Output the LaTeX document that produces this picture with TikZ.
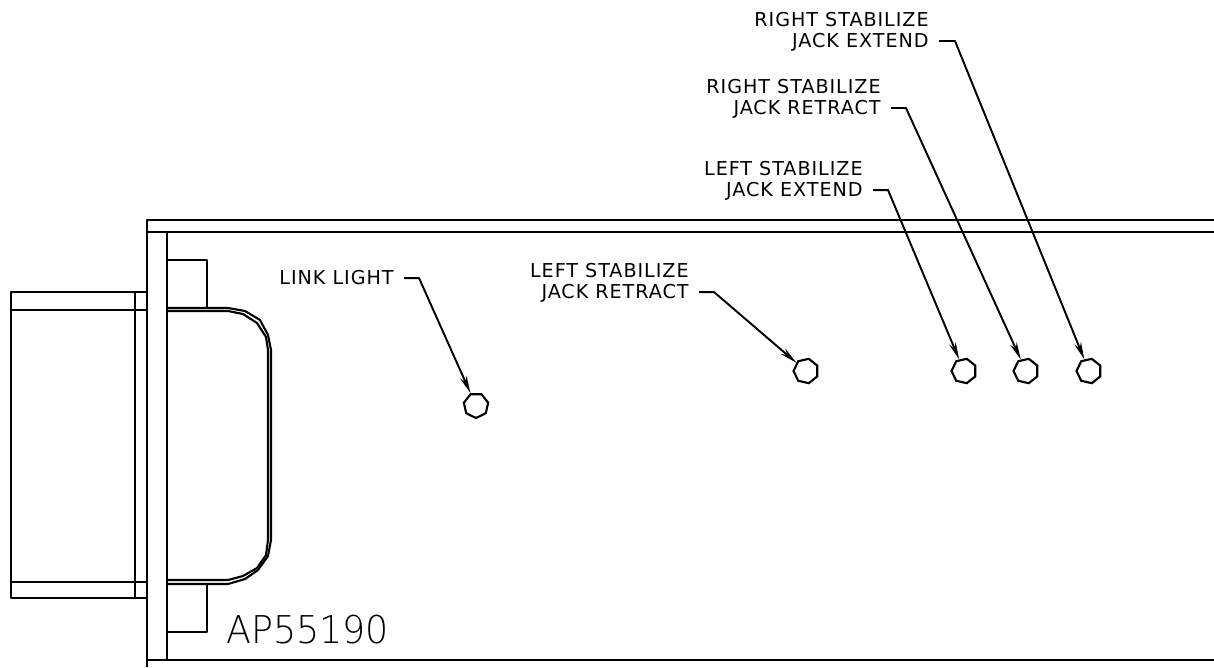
\documentclass[tikz,border=0pt]{standalone}
\usepackage{fontspec}
\newfontfamily\calloutfont[LetterSpace=5]{DejaVu Sans}
\newfontfamily\partfont[FakeStretch=0.95]{DejaVu Sans ExtraLight}
\usetikzlibrary{shapes, arrows.meta, positioning, calc}
\tikzset{
  callout/.style = {font=\calloutfont\fontsize{10.9}{12}\selectfont, anchor=base east, inner xsep=5.7pt, inner ysep=0pt, text height=6.8pt, text depth=0pt},
  lamp/.style = {draw, regular polygon, regular polygon sides=7, minimum size=0.5cm, inner sep=0pt, line width=1.2pt},
  leader/.style = {-{Stealth[length=10pt, width=4pt]}, line width=1.1pt, line join=round},
  edge/.style = {line width=1.2pt, line join=round}
}
\begin{document}
\begin{tikzpicture}[x=0.02cm, y=-0.02cm]
  \useasboundingbox (0,0) rectangle (1214,667);

  % housing
  \draw[edge] (1214,220) -- (147,220) -- (147,667);
  \draw[edge] (1214,232) -- (147,232);
  \draw[edge] (167,232) -- (167,660);
  \draw[edge] (147,660) -- (1214,660);

  % left block
  \draw[edge] (147,292) -- (11,292) -- (11,598) -- (147,598);
  \draw[edge] (11,310) -- (147,310);
  \draw[edge] (11,582) -- (147,582);
  \draw[edge] (135,292) -- (135,598);

  % tabs
  \draw[edge] (167,260) -- (207,260) -- (207,308);
  \draw[edge] (167,632) -- (207,632) -- (207,584);

  % cover outline
  \draw[edge] (167,308) -- (228,308) -- (245,311) -- (260,320) -- (268,335) -- (271,350)
    -- (271,540) -- (268,556) -- (258,570) -- (245,579) -- (228,584) -- (167,584);
  \draw[edge] (167,311) -- (228,311) -- (243,314) -- (257,323) -- (266,337) -- (268,350)
    -- (268,540) -- (266,555) -- (257,568) -- (243,576) -- (228,580) -- (167,580);

  % lamps
  \node[lamp, shape border rotate=180] (linkLamp) at (476,405.5) {};
  \node[lamp, shape border rotate=90] (leftRetLamp) at (806,371) {};
  \node[lamp, shape border rotate=90] (leftExtLamp) at (964,371) {};
  \node[lamp, shape border rotate=90] (rightRetLamp) at (1026,371) {};
  \node[lamp, shape border rotate=90] (rightExtLamp) at (1089,371) {};

  % callouts
  \node[callout] (linkText) at (404,284) {LINK LIGHT};

  \node[callout] (leftRetTop) at (699,277) {LEFT STABILIZE};
  \node[callout] (leftRetText) at (699,298) {JACK RETRACT};

  \node[callout] (leftExtTop) at (873,175) {LEFT STABILIZE};
  \node[callout] (leftExtText) at (873,196) {JACK EXTEND};

  \node[callout] (rightRetTop) at (891,93) {RIGHT STABILIZE};
  \node[callout] (rightRetText) at (891,114) {JACK RETRACT};

  \node[callout] (rightExtTop) at (939,26) {RIGHT STABILIZE};
  \node[callout] (rightExtText) at (939,47) {JACK EXTEND};

  \draw[leader] (linkText.east) -- ++(15,0) -- (linkLamp);
  \draw[leader] (leftRetText.east) -- ++(15,0) -- (leftRetLamp);
  \draw[leader] (leftExtText.east) -- ++(15,0) -- (leftExtLamp);
  \draw[leader] (rightRetText.east) -- ++(15,0) -- (rightRetLamp);
  \draw[leader] (rightExtText.east) -- ++(16,0) -- (rightExtLamp);

  % part number
  \node[font=\partfont\fontsize{21.8}{24}\selectfont, anchor=base west, inner sep=0pt] (partNo) at (226,643) {AP55190};
\end{tikzpicture}
\end{document}
